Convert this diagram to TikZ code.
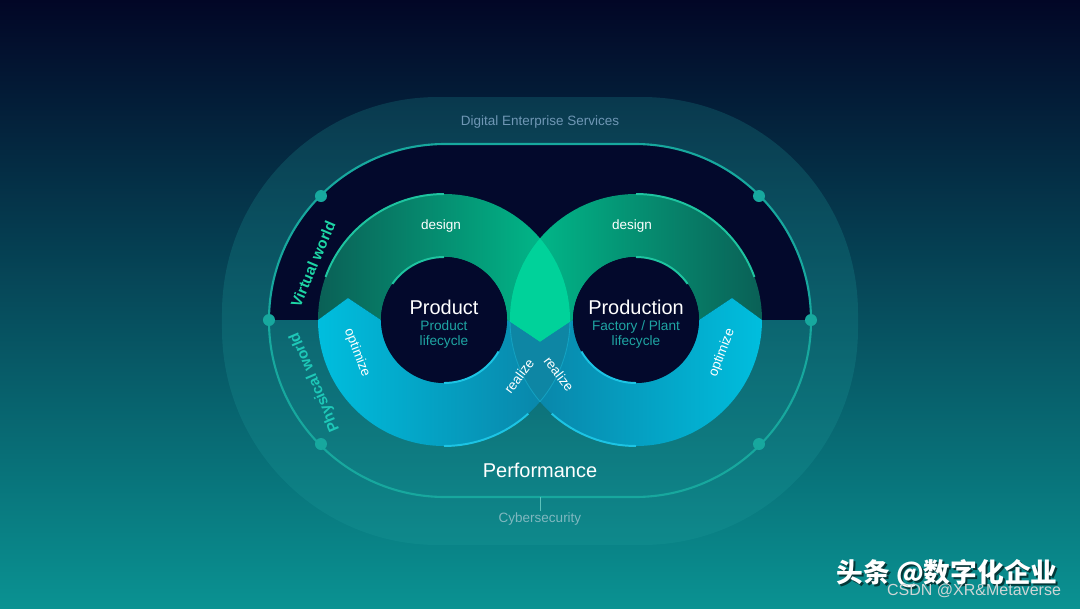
\documentclass[tikz,border=0pt]{standalone}
\usepackage{fontspec}
\setmainfont{Liberation Sans}
\newfontfamily\cjkfont{Noto Sans CJK SC}
\usetikzlibrary{positioning, calc}
\definecolor{bgtop}{RGB}{2,6,38}
\definecolor{bgmid}{RGB}{5,34,66}
\definecolor{bgbot}{RGB}{10,146,146}
\definecolor{bandteal}{RGB}{32,160,160}
\definecolor{innernavy}{RGB}{3,9,44}
\definecolor{tracklc}{RGB}{23,168,158}
\definecolor{greendark}{RGB}{10,96,86}
\definecolor{greenbright}{RGB}{0,192,142}
\definecolor{cyanbright}{RGB}{0,190,222}
\definecolor{cyandark}{RGB}{10,128,164}
\definecolor{lensgreen}{RGB}{0,210,154}
\definecolor{lenscyan}{RGB}{14,134,164}
\definecolor{hlgreen}{RGB}{30,196,160}
\definecolor{hlcyan}{RGB}{28,196,228}
\definecolor{subteal}{RGB}{31,165,163}
\definecolor{titlegrey}{RGB}{111,151,181}
\definecolor{cybergrey}{RGB}{128,184,192}
\definecolor{worldgreen}{RGB}{30,214,166}
\definecolor{worldteal}{RGB}{30,200,184}
\definecolor{csdngrey}{RGB}{205,214,214}
\tikzset{
  trackline/.style={draw=tracklc, line width=1.5pt},
  trackdot/.style={circle, fill=tracklc, minimum size=0.3cm, inner sep=0pt},
  coredisk/.style={circle, fill=innernavy, minimum size=3.15cm, inner sep=0pt},
  greenL/.style={left color=greendark, right color=greenbright},
  greenR/.style={left color=greenbright, right color=greendark},
  cyanL/.style={left color=cyanbright, right color=cyandark},
  cyanR/.style={left color=cyandark, right color=cyanbright},
  lensline/.style={draw=hlcyan, opacity=0.45, line width=0.6pt},
  hlg/.style={draw=hlgreen, line width=1.4pt},
  hlc/.style={draw=hlcyan, line width=1.4pt},
  labeltext/.style={font=\fontsize{9.6}{11}\selectfont, text=white, inner sep=1pt},
  greytext/.style={font=\fontsize{9.6}{11}\selectfont, inner sep=1pt},
  bigtext/.style={font=\fontsize{14.2}{16}\selectfont, text=white, inner sep=0pt},
  subtext/.style={font=\fontsize{9.7}{10.6}\selectfont, text=subteal, align=center, inner sep=0pt},
  worldtext/.style={font=\bfseries\fontsize{10.8}{12}\selectfont, inner sep=1pt}
}

\begin{document}
\begin{tikzpicture}[x=0.025cm, y=0.025cm]
  \useasboundingbox (-540,-288) rectangle (540,320);
  % background and outer band
  \path[top color=bgtop, middle color=bgmid, bottom color=bgbot] (-540,-288) rectangle (540,320);
  \fill[bandteal, opacity=0.22, rounded corners=5.4cm] (-318,-225) rectangle (318,223);
  % inside of the track: virtual half and physical half
  \begin{scope}
    \clip[rounded corners=4.4cm] (-271,-177) rectangle (271,176);
    \fill[innernavy] (-280,0) rectangle (280,180);
    \fill[bandteal, opacity=0.08] (-280,-180) rectangle (280,0);
  \end{scope}
  \draw[trackline, rounded corners=4.4cm] (-271,-177) rectangle (271,176);
  \foreach \pos/\name in {(-219,124)/dotA, (219,124)/dotB, (-271,0)/dotC,
      (271,0)/dotD, (-219,-124)/dotE, (219,-124)/dotF}
    \node[trackdot] (\name) at \pos {};

  % left ring (product)
  \begin{scope}[shift={(-96,0)}]
    \path[greenL] (180:126) arc[start angle=180, end angle=0, radius=126] -- (-12.9:98.5)
      -- (0:63) arc[start angle=0, end angle=180, radius=63] -- (167.1:98.5) -- cycle;
    \path[cyanL] (0:126) arc[start angle=0, end angle=-180, radius=126] -- (167.1:98.5)
      -- (180:63) arc[start angle=-180, end angle=0, radius=63] -- (-12.9:98.5) -- cycle;
  \end{scope}
  % right ring (production)
  \begin{scope}[shift={(96,0)}]
    \path[greenR] (0:126) arc[start angle=0, end angle=180, radius=126] -- (192.9:98.5)
      -- (180:63) arc[start angle=180, end angle=0, radius=63] -- (12.9:98.5) -- cycle;
    \path[cyanR] (180:126) arc[start angle=180, end angle=360, radius=126] -- (12.9:98.5)
      -- (0:63) arc[start angle=360, end angle=180, radius=63] -- (192.9:98.5) -- cycle;
  \end{scope}
  % overlap of the two rings
  \begin{scope}
    \clip (-96,0) circle[radius=126];
    \clip (96,0) circle[radius=126];
    \fill[lensgreen] (-40,100) -- (40,100) -- (40,4.7) -- (0,-22) -- (-40,4.7) -- cycle;
    \fill[lenscyan] (-40,4.7) -- (0,-22) -- (40,4.7) -- (40,-100) -- (-40,-100) -- cycle;
  \end{scope}
  \draw[lensline] (-96,0) ++(0:126) arc[start angle=0, end angle=-40.4, radius=126];
  \draw[lensline] (96,0) ++(180:126) arc[start angle=180, end angle=220.4, radius=126];

  \node[coredisk] (coreL) at (-96,0) {};
  \node[coredisk] (coreR) at (96,0) {};

  % highlight arcs
  \draw[hlg] (-96,0) ++(90:126) arc[start angle=90, end angle=160, radius=126];
  \draw[hlg] (-96,0) ++(90:63) arc[start angle=90, end angle=145, radius=63];
  \draw[hlc] (-96,0) ++(270:126) arc[start angle=270, end angle=312, radius=126];
  \draw[hlc] (-96,0) ++(270:63) arc[start angle=270, end angle=330, radius=63];
  \draw[hlg] (96,0) ++(90:126) arc[start angle=90, end angle=20, radius=126];
  \draw[hlg] (96,0) ++(90:63) arc[start angle=90, end angle=35, radius=63];
  \draw[hlc] (96,0) ++(270:126) arc[start angle=270, end angle=228, radius=126];
  \draw[hlc] (96,0) ++(270:63) arc[start angle=270, end angle=210, radius=63];

  % labels
  \node[greytext, text=titlegrey] (services) at (0,198) {Digital Enterprise Services};
  \node[bigtext] (perf) at (0,-150) {Performance};
  \node[greytext, text=cybergrey] (cyber) at (0,-199) {Cybersecurity};
  \coordinate (trackbottom) at (0,-177);
  \draw[draw=tracklc!70, line width=0.6pt] (trackbottom) -- (cyber.north);
  \node[worldtext, text=worldgreen, rotate=67] (virtual) at (-227,56) {Virtual world};
  \node[worldtext, text=worldteal, rotate=113] (physical) at (-225,-62) {Physical world};

  \node[labeltext] (designL) at (-99,94) {design};
  \node[labeltext] (designR) at (92,94) {design};
  \node[labeltext, rotate=-69] (optL) at (-183,-33) {optimize};
  \node[labeltext, rotate=69] (optR) at (182,-33) {optimize};
  \node[labeltext, rotate=53] (realL) at (-21,-56) {realize};
  \node[labeltext, rotate=-53] (realR) at (19,-54) {realize};

  \node[bigtext] (prodL) at (-96,13) {Product};
  \node[subtext, below=4pt of prodL] (prodLsub) {Product\\lifecycle};
  \node[bigtext] (prodR) at (96,13) {Production};
  \node[subtext, below=4pt of prodR] (prodRsub) {Factory / Plant\\lifecycle};

  % watermark
  \node[font=\cjkfont\bfseries\fontsize{19}{21}\selectfont, text=black, opacity=0.6] (wmshadow) at (409,-256) {头条 @数字化企业};
  \node[font=\cjkfont\bfseries\fontsize{19}{21}\selectfont, text=white] (wmcn) at (407,-254) {头条 @数字化企业};
  \node[font=\fontsize{11.4}{13}\selectfont, text=csdngrey] (wmcsdn) at (434,-271) {CSDN @XR\&Metaverse};
\end{tikzpicture}
\end{document}
